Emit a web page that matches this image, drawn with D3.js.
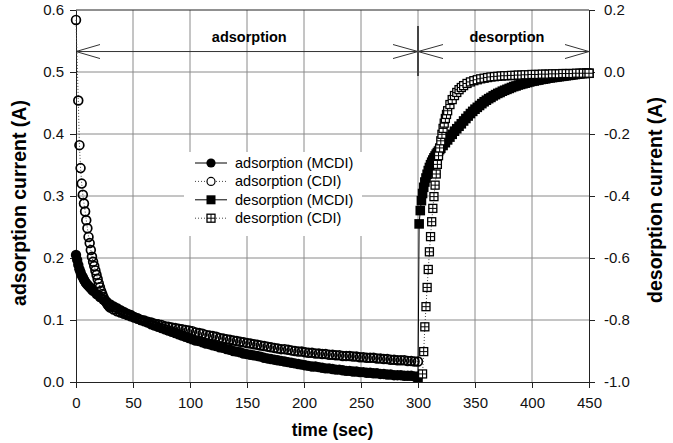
<!DOCTYPE html>
<html>
<head>
<meta charset="utf-8">
<script src="https://cdn.jsdelivr.net/npm/d3@7"></script>
<style>
  body { margin: 0; background: #fff; }
  svg { display: block; font-family: Arial, "Liberation Sans", sans-serif; }
</style>
</head>
<body>
<svg id="chart" width="673" height="443"></svg>
<script>
// [time (sec), current (A)]
const adsMCDI = [
  [0,.205],[1,.197],[2,.189],[3,.182],[4,.177],[5,.172],[6,.169],[7,.165],[8,.162],[9,.159],
  [10,.157],[11,.155],[12,.153],[13,.151],[14,.149],[15,.147],[18,.142],[21,.137],[24,.133],[27,.129],
  [30,.125],[33,.122],[36,.119],[39,.116],[42,.113],[45,.110],[48,.108],[51,.105],[54,.103],[57,.100],
  [60,.098],[63,.096],[66,.093],[69,.091],[72,.089],[75,.087],[78,.085],[81,.083],[84,.081],[87,.079],
  [90,.077],[93,.075],[96,.073],[99,.071],[102,.069],[105,.067],[108,.066],[111,.064],[114,.062],[117,.061],
  [120,.059],[123,.058],[126,.056],[129,.055],[132,.053],[135,.052],[138,.050],[141,.049],[144,.048],[147,.046],
  [150,.045],[153,.044],[156,.043],[159,.042],[162,.041],[165,.039],[168,.038],[171,.037],[174,.036],[177,.035],
  [180,.034],[183,.033],[186,.032],[189,.031],[192,.030],[195,.029],[198,.028],[201,.027],[204,.026],[207,.025],
  [210,.025],[213,.024],[216,.023],[219,.022],[222,.022],[225,.021],[228,.020],[231,.020],[234,.019],[237,.018],
  [240,.018],[243,.017],[246,.017],[249,.016],[252,.016],[255,.015],[258,.015],[261,.014],[264,.014],[267,.013],
  [270,.013],[273,.012],[276,.012],[279,.011],[282,.011],[285,.011],[288,.010],[291,.010],[294,.010],[297,.009],
  [300,.009]
];

const adsCDI = [
  [0,.584],[2,.454],[3,.382],[4,.345],[5,.320],[6,.302],[7,.288],[8,.275],[9,.261],[10,.248],
  [11,.234],[12,.224],[13,.213],[14,.202],[15,.194],[16,.187],[17,.180],[18,.173],[19,.166],[20,.159],
  [21,.153],[22,.147],[23,.142],[24,.137],[25,.133],[26,.130],[27,.127],[28,.124],[29,.122],[30,.120],
  [33,.117],[36,.114],[39,.112],[42,.110],[45,.108],[48,.106],[51,.104],[54,.102],[57,.100],[60,.099],
  [63,.097],[66,.096],[69,.094],[72,.093],[75,.092],[78,.090],[81,.089],[84,.088],[87,.087],[90,.086],
  [93,.085],[96,.084],[99,.083],[102,.082],[105,.080],[108,.079],[111,.078],[114,.076],[117,.075],[120,.074],
  [123,.073],[126,.071],[129,.070],[132,.069],[135,.068],[138,.067],[141,.066],[144,.065],[147,.064],[150,.063],
  [153,.062],[156,.061],[159,.060],[162,.059],[165,.058],[168,.057],[171,.056],[174,.055],[177,.054],[180,.053],
  [183,.053],[186,.052],[189,.051],[192,.050],[195,.049],[198,.049],[201,.048],[204,.047],[207,.047],[210,.046],
  [213,.046],[216,.045],[219,.045],[222,.044],[225,.044],[228,.043],[231,.043],[234,.042],[237,.042],[240,.042],
  [243,.041],[246,.041],[249,.040],[252,.040],[255,.039],[258,.039],[261,.039],[264,.038],[267,.038],[270,.037],
  [273,.037],[276,.036],[279,.036],[282,.035],[285,.035],[288,.035],[291,.034],[294,.034],[297,.033],[300,.033]
];

const desMCDI = [
  [300,-.985],[301,-.490],[302,-.447],[303,-.415],[304,-.392],[305,-.372],[306,-.355],[307,-.342],[308,-.330],[309,-.318],
  [310,-.308],[311,-.299],[312,-.291],[313,-.284],[314,-.277],[315,-.271],[316,-.265],[317,-.260],[318,-.255],[319,-.250],
  [320,-.246],[322,-.237],[324,-.228],[326,-.219],[328,-.210],[330,-.201],[332,-.191],[334,-.183],[336,-.175],[338,-.167],
  [340,-.158],[342,-.150],[344,-.142],[346,-.134],[348,-.127],[350,-.120],[352,-.114],[354,-.108],[356,-.102],[358,-.096],
  [360,-.091],[362,-.086],[364,-.082],[366,-.077],[368,-.073],[370,-.069],[372,-.066],[374,-.062],[376,-.059],[378,-.056],
  [380,-.053],[382,-.050],[384,-.047],[386,-.045],[388,-.042],[390,-.040],[392,-.038],[394,-.036],[396,-.034],[398,-.032],
  [400,-.030],[402,-.029],[404,-.027],[406,-.026],[408,-.024],[410,-.023],[412,-.022],[414,-.020],[416,-.019],[418,-.018],
  [420,-.017],[422,-.016],[424,-.015],[426,-.014],[428,-.013],[430,-.012],[432,-.011],[434,-.010],[436,-.009],[438,-.008],
  [440,-.007],[442,-.006],[444,-.005],[446,-.005],[448,-.004],[450,-.004]
];

const desCDI = [
  [304,-.974],[305,-.902],[306,-.822],[307,-.757],[308,-.695],[309,-.637],[310,-.580],[311,-.531],[312,-.483],[313,-.440],
  [314,-.402],[315,-.365],[316,-.329],[317,-.298],[318,-.270],[319,-.245],[320,-.222],[321,-.201],[322,-.182],[323,-.165],
  [324,-.150],[325,-.137],[326,-.125],[328,-.105],[330,-.089],[332,-.076],[334,-.066],[336,-.057],[338,-.050],[340,-.044],
  [343,-.037],[346,-.032],[349,-.028],[352,-.025],[355,-.022],[358,-.020],[361,-.018],[364,-.016],[367,-.015],[370,-.014],
  [373,-.013],[376,-.012],[379,-.012],[382,-.011],[385,-.011],[388,-.010],[391,-.010],[394,-.009],[397,-.009],[400,-.008],
  [403,-.008],[406,-.008],[409,-.007],[412,-.007],[415,-.007],[418,-.006],[421,-.006],[424,-.006],[427,-.005],[430,-.005],
  [433,-.005],[436,-.005],[439,-.004],[442,-.004],[445,-.004],[448,-.004],[450,-.004]
];

const xTicks = [0, 50, 100, 150, 200, 250, 300, 350, 400, 450];
const leftTicks = [0, 0.1, 0.2, 0.3, 0.4, 0.5, 0.6];
const rightTicks = [-1.0, -0.8, -0.6, -0.4, -0.2, 0.0, 0.2];
const legendLabels = ["adsorption (MCDI)", "adsorption (CDI)", "desorption (MCDI)", "desorption (CDI)"];
const phaseLabels = ["adsorption", "desorption"];

const svg = d3.select("#chart");
const x = d3.scaleLinear().domain([0, 450]).range([76, 589]);
const yL = d3.scaleLinear().domain([0, 0.6]).range([382, 10]);
const yR = d3.scaleLinear().domain([-1.0, 0.2]).range([382, 10]);

const gridColor = "#8a8a8a", axisColor = "#222";

// gridlines
svg.append("g").selectAll("line")
  .data(xTicks.slice(1, -1))
  .join("line")
  .attr("x1", d => x(d)).attr("x2", d => x(d))
  .attr("y1", yL(0)).attr("y2", yL(0.6))
  .attr("stroke", gridColor).attr("stroke-width", 1);

svg.append("g").selectAll("line")
  .data(leftTicks.slice(1, -1))
  .join("line")
  .attr("x1", x(0)).attr("x2", x(450))
  .attr("y1", d => yL(d)).attr("y2", d => yL(d))
  .attr("stroke", gridColor).attr("stroke-width", 1);

// phase annotation: arrows and separator
const arrowY = yL(0.533);
const ann = svg.append("g").attr("stroke", "#333").attr("stroke-width", 1).attr("fill", "none");
ann.append("line").attr("x1", x(0)).attr("x2", x(450)).attr("y1", arrowY).attr("y2", arrowY);
ann.append("path").attr("d", `M${x(0) + 24},${arrowY - 7}L${x(0)},${arrowY}L${x(0) + 24},${arrowY + 7}`);
ann.append("path").attr("d", `M${x(450) - 24},${arrowY - 7}L${x(450)},${arrowY}L${x(450) - 24},${arrowY + 7}`);
ann.append("path").attr("d", `M${x(300) - 25},${arrowY - 7}L${x(300) + 25},${arrowY + 7}M${x(300) - 25},${arrowY + 7}L${x(300) + 25},${arrowY - 7}`);
ann.append("line").attr("x1", x(300)).attr("x2", x(300)).attr("y1", 26).attr("y2", 76)
  .attr("stroke-width", 2).attr("stroke", "#444");

svg.append("g").selectAll("text")
  .data(phaseLabels)
  .join("text")
  .attr("x", (d, i) => x(i === 0 ? 152 : 378))
  .attr("y", 42)
  .attr("text-anchor", "middle")
  .style("font-size", "14.5px")
  .style("font-weight", "bold")
  .text(d => d);

// legend background
const leg = svg.append("g");
leg.append("rect").attr("x", 184).attr("y", 152).attr("width", 178).attr("height", 84).attr("fill", "#fff");

// axes
const fmt = d => d.toFixed(1);
const gx = svg.append("g").attr("transform", `translate(0,${yL(0)})`)
  .call(d3.axisBottom(x).tickValues(xTicks).tickSize(6).tickPadding(6).tickSizeOuter(0));
const gl = svg.append("g").attr("transform", `translate(${x(0)},0)`)
  .call(d3.axisLeft(yL).tickValues(leftTicks).tickFormat(fmt).tickSize(6).tickPadding(6).tickSizeOuter(0));
const gr = svg.append("g").attr("transform", `translate(${x(450)},0)`)
  .call(d3.axisRight(yR).tickValues(rightTicks).tickFormat(fmt).tickSize(6).tickPadding(9).tickSizeOuter(0));
[gx, gl, gr].forEach(g => {
  g.selectAll("path, line").attr("stroke", axisColor);
  g.selectAll("text").style("font-size", "15px").attr("fill", "#111").style("font-family", "Arial, 'Liberation Sans', sans-serif");
});
gx.selectAll("text").attr("dy", "0.95em");
svg.append("line").attr("x1", x(0)).attr("x2", x(450)).attr("y1", yL(0.6)).attr("y2", yL(0.6))
  .attr("stroke", axisColor);

// series
const lineL = d3.line().x(d => x(d[0])).y(d => yL(d[1]));
const lineR = d3.line().x(d => x(d[0])).y(d => yR(d[1]));
const plot = svg.append("g");

plot.append("path").datum(adsMCDI).attr("d", lineL).attr("fill", "none").attr("stroke", "#000").attr("stroke-width", 1);
plot.append("g").selectAll("circle").data(adsMCDI).join("circle")
  .attr("cx", d => x(d[0])).attr("cy", d => yL(d[1])).attr("r", 5.2).attr("fill", "#000");

plot.append("path").datum(adsCDI).attr("d", lineL).attr("fill", "none").attr("stroke", "#444")
  .attr("stroke-width", 1).attr("stroke-dasharray", "1,2");
plot.append("g").selectAll("circle").data(adsCDI).join("circle")
  .attr("cx", d => x(d[0])).attr("cy", d => yL(d[1])).attr("r", 4.4)
  .attr("fill", "none").attr("stroke", "#000").attr("stroke-width", 1.7);

plot.append("path").datum(desMCDI).attr("d", lineR).attr("fill", "none").attr("stroke", "#000").attr("stroke-width", 1);
plot.append("g").selectAll("rect").data(desMCDI).join("rect")
  .attr("x", d => x(d[0]) - 4.8).attr("y", d => yR(d[1]) - 4.8).attr("width", 9.6).attr("height", 9.6).attr("fill", "#000");

plot.append("path").datum(desCDI).attr("d", lineR).attr("fill", "none").attr("stroke", "#444")
  .attr("stroke-width", 1).attr("stroke-dasharray", "1,2");
const crossSq = (g, cx, cy) => {
  g.append("rect").attr("x", cx - 4).attr("y", cy - 4).attr("width", 8).attr("height", 8)
    .attr("fill", "#fff").attr("stroke", "#000").attr("stroke-width", 1.3);
  g.append("path").attr("d", `M${cx - 4},${cy}H${cx + 4}M${cx},${cy - 4}V${cy + 4}`)
    .attr("stroke", "#000").attr("stroke-width", 1);
};
const gSq = plot.append("g");
desCDI.forEach(d => crossSq(gSq, x(d[0]), yR(d[1])));

// legend items
const rowY = i => 163 + i * 18.4;
legendLabels.forEach((label, i) => {
  const y = rowY(i);
  leg.append("line").attr("x1", 195).attr("x2", 227).attr("y1", y).attr("y2", y)
    .attr("stroke", i % 2 ? "#444" : "#000").attr("stroke-width", 1)
    .attr("stroke-dasharray", i % 2 ? "1,2" : null);
  if (i === 0) leg.append("circle").attr("cx", 211).attr("cy", y).attr("r", 4.6).attr("fill", "#000");
  if (i === 1) leg.append("circle").attr("cx", 211).attr("cy", y).attr("r", 4).attr("fill", "#fff").attr("stroke", "#000").attr("stroke-width", 1.2);
  if (i === 2) leg.append("rect").attr("x", 206.5).attr("y", y - 4.5).attr("width", 9).attr("height", 9).attr("fill", "#000");
  if (i === 3) crossSq(leg, 211, y);
  leg.append("text").attr("x", 235).attr("y", y).attr("dy", "0.35em")
    .style("font-size", "14.5px").text(label);
});

// axis titles
svg.append("text").attr("x", x(225)).attr("y", 436).attr("text-anchor", "middle")
  .style("font-size", "17.5px").style("font-weight", "bold").text("time (sec)");
svg.append("text").attr("transform", `translate(26,203) rotate(-90)`).attr("text-anchor", "middle")
  .style("font-size", "19.5px").style("font-weight", "bold").text("adsorption current (A)");
svg.append("text").attr("transform", `translate(662,200) rotate(-90)`).attr("text-anchor", "middle")
  .style("font-size", "19.5px").style("font-weight", "bold").text("desorption current (A)");
</script>
</body>
</html>
